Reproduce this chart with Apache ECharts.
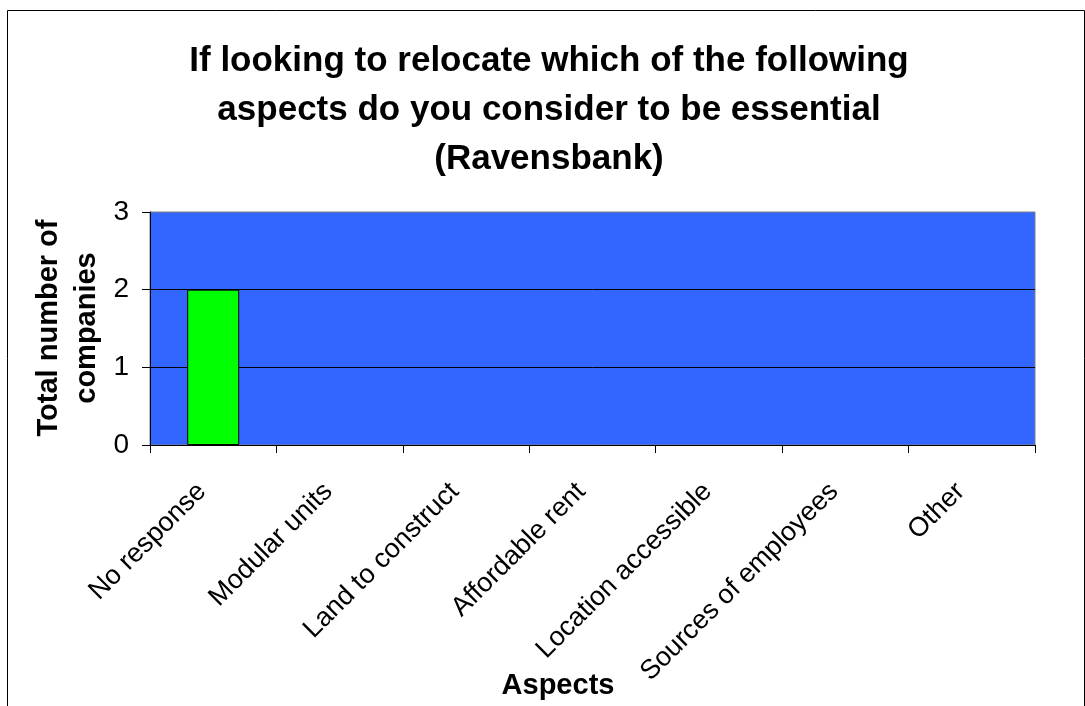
<!DOCTYPE html>
<html>
<head>
<meta charset="utf-8">
<script src="https://cdn.jsdelivr.net/npm/echarts@6/dist/echarts.min.js"></script>
<style>
html,body{margin:0;padding:0;background:#fff;}
#chart{width:1085px;height:706px;}
</style>
</head>
<body>
<div id="chart"></div>
<script>
const categories = ['No response', 'Modular units', 'Land to construct', 'Affordable rent', 'Location accessible', 'Sources of employees', 'Other'];
const values = [2, 0, 0, 0, 0, 0, 0];
const yTicks = [0, 1, 2, 3];
const titleText = 'If looking to relocate which of the following\naspects do you consider to be essential\n(Ravensbank)';
const yName = 'Total number of\ncompanies';
const xName = 'Aspects';

const FONT = '"Liberation Sans", Arial, sans-serif';
const chart = echarts.init(document.getElementById('chart'), null, {renderer: 'canvas'});
chart.setOption({
  animation: false,
  backgroundColor: '#ffffff',
  grid: {
    left: 150, top: 212, right: 50, height: 233,
    show: true, backgroundColor: '#3366FF', borderColor: '#808080', borderWidth: 1
  },
  xAxis: {
    type: 'category',
    data: categories,
    boundaryGap: true,
    axisLine: {lineStyle: {color: '#000', width: 1}},
    axisTick: {show: true, length: 8, lineStyle: {color: '#000'}},
    axisLabel: {
      rotate: 45, interval: 0, margin: 31, padding: [0, 16, 0, 0],
      color: '#000', fontSize: 27, fontFamily: FONT
    },
    splitLine: {show: false}
  },
  yAxis: {
    type: 'value',
    min: yTicks[0], max: yTicks[yTicks.length - 1], interval: 1,
    axisLine: {show: true, lineStyle: {color: '#000', width: 1}},
    axisTick: {show: true, length: 8, lineStyle: {color: '#000'}},
    axisLabel: {margin: 21, color: '#000', fontSize: 28, fontFamily: FONT},
    splitLine: {show: true, showMaxLine: false, lineStyle: {color: '#000', width: 1}}
  },
  series: [{
    type: 'bar',
    data: values.map(v => (v === 0 ? null : v)),
    barWidth: 52,
    itemStyle: {color: '#00FF00', borderColor: '#000', borderWidth: 1}
  }],
  graphic: [
    {type: 'rect', silent: true, z: -1,
     shape: {x: 7.5, y: 10.5, width: 1077, height: 800},
     style: {fill: null, stroke: '#000', lineWidth: 1}},
    {type: 'text', x: 549, y: 110, silent: true,
     style: {text: titleText, font: 'bold 35px ' + FONT, fill: '#000',
             align: 'center', verticalAlign: 'middle', lineHeight: 49}},
    {type: 'text', x: 68, y: 328, rotation: Math.PI / 2, silent: true,
     style: {text: yName, font: 'bold 29px ' + FONT, fill: '#000',
             align: 'center', verticalAlign: 'middle', lineHeight: 38}},
    {type: 'text', x: 558, y: 686, silent: true,
     style: {text: xName, font: 'bold 29px ' + FONT, fill: '#000',
             align: 'center', verticalAlign: 'middle'}}
  ]
});
</script>
</body>
</html>
